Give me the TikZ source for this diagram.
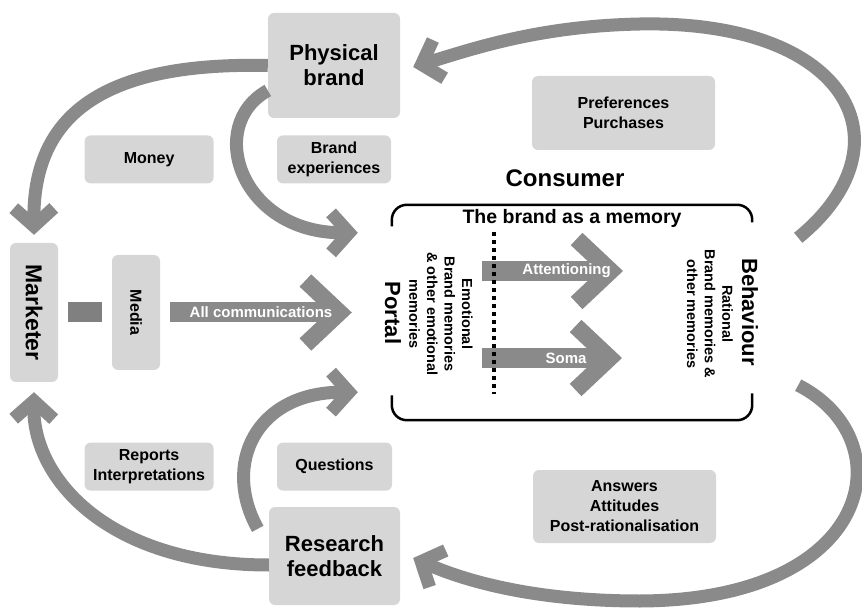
\documentclass[tikz,border=0pt]{standalone}
\usepackage{fontspec}
\setmainfont{Liberation Sans}
\usetikzlibrary{arrows.meta,calc,positioning}
\definecolor{boxgray}{RGB}{214,214,214}
\definecolor{flowgray}{RGB}{138,138,138}
\definecolor{linkgray}{RGB}{128,128,128}

\tikzset{
  box/.style={fill=boxgray, rounded corners=6pt, align=center, inner sep=2pt},
  bigbox/.style={box, font=\fontsize{22}{25}\selectfont\bfseries},
  smallbox/.style={box, font=\fontsize{16}{20}\selectfont\bfseries},
  flow/.style={draw=flowgray, line width=13pt, -{Straight Barb[length=18pt,width=40pt]}},
  fat/.style={draw=flowgray, line width=20pt, -{Straight Barb[length=34pt,width=64pt,line width'=17pt]}},
  inlabel/.style={text=white, font=\fontsize{15}{18}\selectfont\bfseries},
  memtext/.style={rotate=-90, align=center, font=\fontsize{14.5}{17.6}\selectfont\bfseries},
}

\begin{document}
\begin{tikzpicture}[x=1pt, y=-1pt]
\useasboundingbox (0,0) rectangle (862,609);

% actors
\node[bigbox, minimum width=132pt, minimum height=105pt] (phys) at (334,65.5) {Physical\\brand};
\node[bigbox, minimum width=131pt, minimum height=98pt] (res) at (334.5,556) {Research\\feedback};
\node[bigbox, font=\fontsize{23}{25}\selectfont\bfseries, minimum width=48pt, minimum height=139pt] (mkt) at (34,312.5) {\rotatebox{-90}{Marketer}};
\node[smallbox, minimum width=48pt, minimum height=115pt] (media) at (136,312.5) {\rotatebox{-90}{Media}};
\draw[linkgray, line width=20pt, shorten <=10pt, shorten >=10pt] (mkt.east) -- (media.west);

% what flows along the loops
\node[smallbox, minimum width=114pt, minimum height=48pt, below=17pt of phys] (brexp) {Brand\\experiences};
\node[smallbox, minimum width=129pt, minimum height=48pt, left=63pt of brexp] (money) {Money};
\node[smallbox, minimum width=183pt, minimum height=74pt] (pref) at (623.5,113) {Preferences\\Purchases};
\node[smallbox, minimum width=115pt, minimum height=48pt, above=16pt of res] (quest) {Questions};
\node[smallbox, minimum width=129pt, minimum height=48pt, left=63pt of quest] (rep) {Reports\\Interpretations};
\node[smallbox, minimum width=183pt, minimum height=73pt] (ans) at (624.5,506.5) {Answers\\Attitudes\\Post-rationalisation};

% consumer frame
\node[minimum width=360pt, minimum height=215pt, inner sep=0pt] (mem) at (572,312.5) {};
\node[font=\fontsize{24}{28}\selectfont\bfseries] (cons) at (565,178) {Consumer};
\draw[line width=2.5pt, rounded corners=15pt] ($(mem.west)+(0,-86)$) |- (mem.north) -| ($(mem.east)+(0,-90)$);
\draw[line width=2.5pt, rounded corners=15pt] ($(mem.west)+(0,83)$) |- (mem.south) -| ($(mem.east)+(0,81)$);
\node[font=\fontsize{19.5}{22}\selectfont\bfseries] (title) at (572,218) {The brand as a memory};
\node[rotate=-90, font=\fontsize{22}{26}\selectfont\bfseries] (portal) at (393,313) {Portal};
\node[rotate=-90, font=\fontsize{22}{26}\selectfont\bfseries] (behav) at (750,312) {Behaviour};
\node[memtext] (emo) at (441,314) {Emotional\\Brand memories\\\& other emotional\\memories};
\node[memtext] (rat) at (710,314) {Rational\\Brand memories \&\\other memories};

% inner arrows
\draw[fat] ($(mem.center)+(-90,-41.5)$) -- node[inlabel, pos=0.6] {Attentioning} ($(mem.center)+(51,-41.5)$);
\draw[fat] ($(mem.center)+(-90,45.5)$) -- node[inlabel, pos=0.6] {Soma} ($(mem.center)+(50,45.5)$);
\draw[fat] ($(media.east)+(10,0)$) -- node[inlabel] {All communications} ($(mem.west)+(-40,0)$);
\draw[line width=4pt, dash pattern=on 4pt off 4pt] (494,232) -- (494,394);

% loops
\draw[flow] (phys.west) .. controls (110,62) and (33,110) .. ($(mkt.north)+(0,-8)$);
\draw[flow] ($(phys.west)+(0,25)$) .. controls (205,125) and (240,233) .. ($(mem.north west)+(-34,28)$);
\draw[flow] ($(res.west)+(0,9)$) .. controls (110,565) and (33,480) .. ($(mkt.south)+(0,10)$);
\draw[flow] ($(res.north west)+(-11,22)$) .. controls (222,465) and (255,392) .. ($(mem.south west)+(-34,-28)$);
\draw[flow] ($(mem.north east)+(46,33)$) .. controls (912,145) and (850,20) .. (640,24)
  .. controls (540,26) and (475,48) .. ($(phys.east)+(13,1.5)$);
\draw[flow] ($(mem.south east)+(46,-35)$) .. controls (905,440) and (875,600) .. (640,601)
  .. controls (540,601) and (470,583) .. ($(res.east)+(13,2)$);
\end{tikzpicture}
\end{document}
